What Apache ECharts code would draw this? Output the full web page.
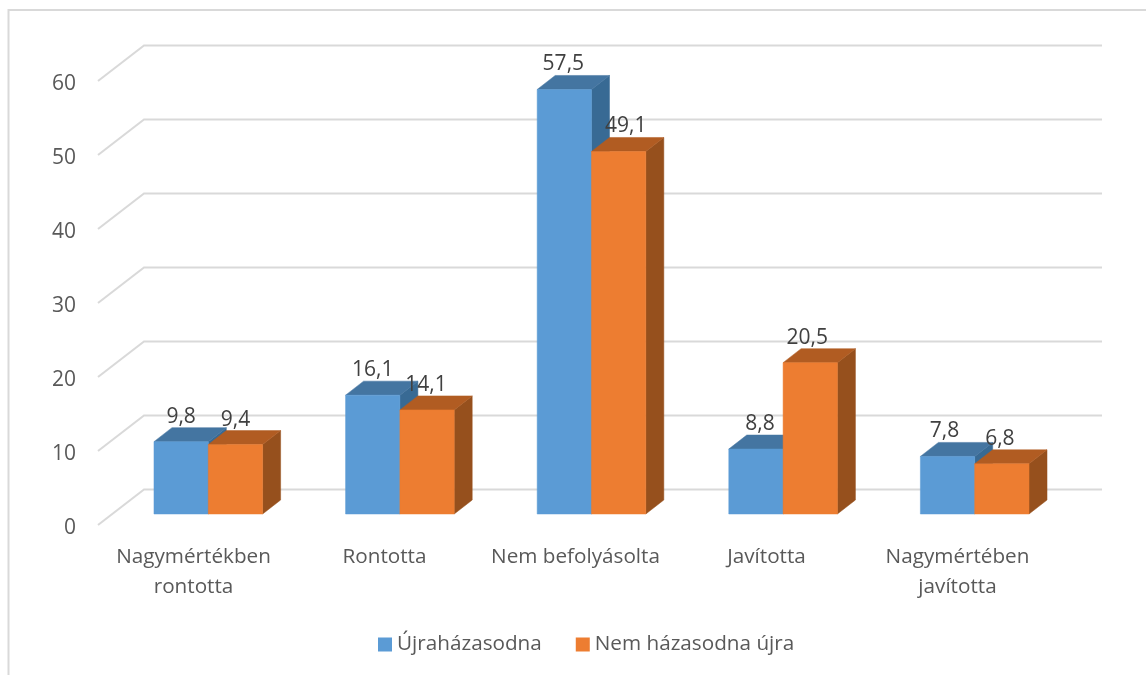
<!DOCTYPE html>
<html>
<head>
<meta charset="utf-8">
<style>html,body{margin:0;padding:0;background:#fff}#c{width:1146px;height:675px}</style>
<script src="https://cdn.jsdelivr.net/npm/echarts@6/dist/echarts.min.js"></script>
</head>
<body>
<div id="c"></div>
<script>
const categories = ['Nagymértékben\nrontotta', 'Rontotta', 'Nem befolyásolta', 'Javította', 'Nagymértében\njavította'];
const seriesNames = ['Újraházasodna', 'Nem házasodna újra'];
const remarry = [9.8, 16.1, 57.5, 8.8, 7.8];
const noRemarry = [9.4, 14.1, 49.1, 20.5, 6.8];
const yTicks = [0, 10, 20, 30, 40, 50, 60];

const FONT = '"Open Sans"';
const DEPTH_X = 18, DEPTH_Y = -14;
const WALL_X = 46, WALL_Y = -35.5;
const TICK_LIFT = 3; // the axis numbers sit slightly below the ends of the wall lines
// the reference nudges some data labels sideways to keep them clear of each other
const labelNudgeA = [0, 0, -1, 4, -3];
const labelNudgeB = [0, -1, 7, -3, -2];

const chart = echarts.init(document.getElementById('c'), null, {renderer: 'canvas'});

function wallLine(params, api) {
  const cs = params.coordSys;
  const y = api.coord([0, api.value(0)])[1] - TICK_LIFT;
  return {
    type: 'polyline',
    shape: {points: [[cs.x, y], [cs.x + WALL_X, y + WALL_Y], [cs.x + cs.width + WALL_X + 3, y + WALL_Y]]},
    style: {fill: null, stroke: '#d9d9d9', lineWidth: 2}
  };
}

function barRenderer(side, front, top, right, nudge) {
  return function (params, api) {
    const i = api.value(0), v = api.value(1);
    const base = api.coord([i, 0]), tip = api.coord([i, v]);
    const w = api.size([1, 0])[0] * 0.2835;
    const x0 = side < 0 ? base[0] - w : base[0];
    const x1 = x0 + w;
    const yb = base[1], yt = tip[1];
    const poly = (pts, c) => ({type: 'polygon', shape: {points: pts}, style: {fill: c, stroke: c, lineWidth: 0.5}});
    return {
      type: 'group',
      children: [
        poly([[x1, yb], [x1 + DEPTH_X, yb + DEPTH_Y], [x1 + DEPTH_X, yt + DEPTH_Y], [x1, yt]], right),
        poly([[x0, yt], [x0 + DEPTH_X, yt + DEPTH_Y], [x1 + DEPTH_X, yt + DEPTH_Y], [x1, yt]], top),
        poly([[x0, yb], [x1, yb], [x1, yt], [x0, yt]], front),
        {
          type: 'text',
          style: {
            x: (x0 + x1) / 2 + nudge[i], y: yt - 25,
            text: String(v).replace('.', ','),
            fill: '#404040', font: '21px ' + FONT,
            textAlign: 'center', textVerticalAlign: 'middle'
          }
        }
      ]
    };
  };
}

const toData = (arr) => arr.map((v, i) => [i, v]);

chart.setOption({
  animation: false,
  backgroundColor: '#fff',
  textStyle: {fontFamily: FONT},
  grid: [
    {left: 98, width: 955, top: 84, height: 444},
    {left: 112.5, width: 958, top: 71, height: 443}
  ],
  xAxis: [
    {
      type: 'category', gridIndex: 0, data: categories,
      axisLine: {show: false}, axisTick: {show: false}, splitLine: {show: false},
      axisLabel: {color: '#595959', fontSize: 20.7, lineHeight: 30, margin: 14, fontFamily: FONT, interval: 0}
    },
    {type: 'category', gridIndex: 1, data: categories, show: false}
  ],
  yAxis: [
    {
      type: 'value', gridIndex: 0, min: 0, max: 60, interval: 10,
      axisLine: {show: false}, axisTick: {show: false}, splitLine: {show: false},
      axisLabel: {color: '#595959', fontSize: 21, margin: 22, fontFamily: FONT}
    },
    {type: 'value', gridIndex: 1, min: 0, max: 60, interval: 10, show: false, splitLine: {show: false}}
  ],
  legend: {
    data: seriesNames,
    left: 378, top: 634, padding: 0,
    icon: 'rect', itemWidth: 14, itemHeight: 14, itemGap: 34,
    selectedMode: false,
    textStyle: {color: '#595959', fontSize: 20.7, fontFamily: FONT}
  },
  graphic: [
    {type: 'polyline', silent: true, shape: {points: [[8.5, 675], [8.5, 10], [1146, 10]]}, style: {fill: null, stroke: '#d9d9d9', lineWidth: 2}}
  ],
  series: [
    {
      type: 'custom', name: 'wall', xAxisIndex: 0, yAxisIndex: 0, clip: false,
      data: yTicks.map(v => [v]), encode: {y: 0}, renderItem: wallLine, silent: true
    },
    {
      type: 'custom', name: seriesNames[0], xAxisIndex: 1, yAxisIndex: 1, clip: false,
      itemStyle: {color: '#5b9bd5'},
      data: toData(remarry), encode: {x: 0, y: 1},
      renderItem: barRenderer(-1, '#5b9bd5', '#4475a1', '#386a94', labelNudgeA)
    },
    {
      type: 'custom', name: seriesNames[1], xAxisIndex: 1, yAxisIndex: 1, clip: false,
      itemStyle: {color: '#ed7d31'},
      data: toData(noRemarry), encode: {x: 0, y: 1},
      renderItem: barRenderer(1, '#ed7d31', '#b15c22', '#96501d', labelNudgeB)
    }
  ]
});
</script>
</body>
</html>
